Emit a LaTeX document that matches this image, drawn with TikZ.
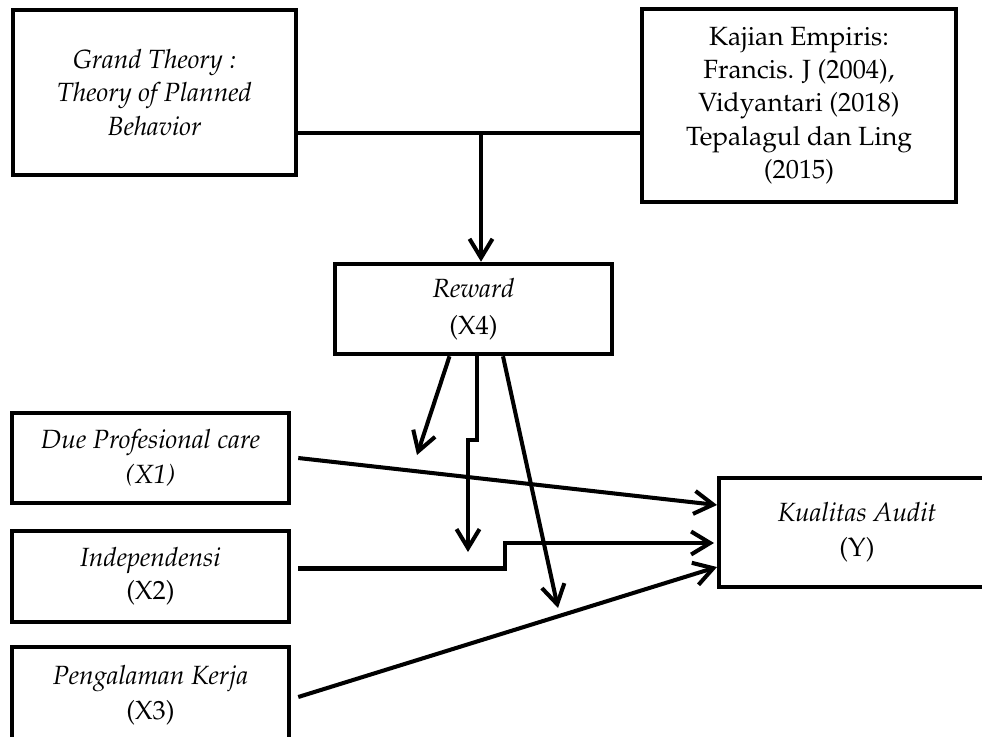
\documentclass[tikz,border=0pt]{standalone}
\usepackage[T1]{fontenc}
\usepackage{mathpazo}
\usepackage{xcolor}
\usepackage{tikz}
\usetikzlibrary{arrows.meta,positioning,calc}

\tikzset{
  box/.style={draw, line width=2.6pt, inner sep=0pt, align=center,
    font=\fontsize{15}{19}\selectfont},
  link/.style={line width=2.3pt},
  arr/.style={link, -{Straight Barb[length=3.8mm, width=4.6mm]}}
}

\begin{document}
\begin{tikzpicture}[x=0.02cm, y=-0.02cm]
  \useasboundingbox (0,0) rectangle (982,736);
  \node[box, minimum width=5.66cm, minimum height=3.3cm] (grand) at (154.5,92.5)
    {\textit{Grand Theory :}\\ \textit{Theory of Planned}\\ \textit{Behavior}};
  \node[box, minimum width=6.28cm, minimum height=3.86cm] (kajian) at (799,105.5)
    {Kajian Empiris:\\ Francis. J (2004),\\ Vidyantari (2018)\\ Tepalagul dan Ling\\ (2015)};
  \node[box, minimum width=5.54cm, minimum height=1.8cm,
    font=\fontsize{15}{21}\selectfont] (reward) at (473.5,309) {\textit{Reward}\\ (X4)};
  \node[box, minimum width=5.54cm, minimum height=1.8cm,
    font=\fontsize{15}{20}\selectfont] (due) at (150.5,458) {\textit{Due Profesional care}\\ \textit{(X1)}};
  \node[box, minimum width=5.54cm, minimum height=1.82cm,
    font=\fontsize{15}{19}\selectfont] (indep) at (150.5,576.5) {\textit{Independensi}\\ (X2)};
  \node[box, minimum width=5.54cm, minimum height=1.92cm,
    font=\fontsize{15}{20}\selectfont] (peng) at (150.5,695) {\textit{Pengalaman Kerja}\\ (X3)};
  \node[box, minimum width=5.52cm, minimum height=2.18cm,
    font=\fontsize{15}{20}\selectfont] (kual) at (857,532.5) {\textit{Kualitas Audit}\\ (Y)};

  \coordinate (mid) at (481,133);
  \coordinate (r1) at (417,455);
  \coordinate (jog) at (468,440);
  \coordinate (r2) at (468,552);
  \coordinate (r3) at (558,608);
  \coordinate (step) at (505,543);
  \coordinate (k1) at (717,505);
  \coordinate (k2) at (714,543);
  \coordinate (k3) at (717,567);

  \draw[link] (grand.east |- mid) -- (kajian.west |- mid);
  \draw[arr] (mid) -- (reward.north -| mid);
  \draw[arr] ($(reward.south)+(-24,0)$) -- (r1);
  \draw[arr] ($(reward.south)+(3.5,0)$) |- (jog) -- (r2);
  \draw[arr] ($(reward.south)+(29.5,0)$) -- (r3);
  \draw[arr] ([xshift=0.14cm]due.east) -- (k1);
  \draw[arr] ([xshift=0.14cm, yshift=0.16cm]indep.east) -| (step) -- (k2);
  \draw[arr] ([xshift=0.14cm, yshift=-0.04cm]peng.east) -- (k3);
\end{tikzpicture}
\end{document}
